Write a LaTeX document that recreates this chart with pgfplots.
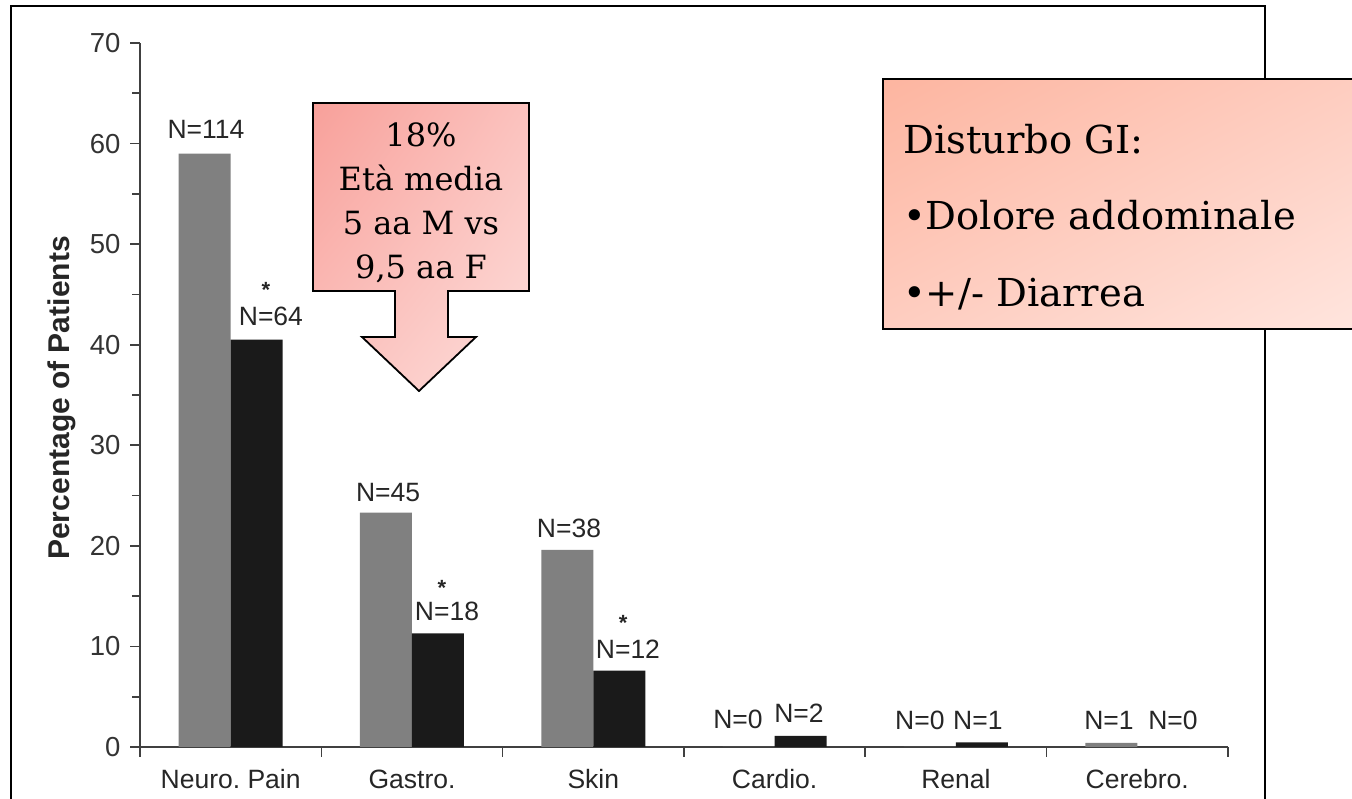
\documentclass[border=0pt]{standalone}
\usepackage{pgfplots}
\pgfplotsset{compat=1.18}
\usetikzlibrary{shadings}
\usepackage{fontspec}
\setmainfont{Liberation Sans}
\setsansfont{Liberation Sans}
\newfontfamily\boxfont{DejaVu Serif}

\definecolor{barGrey}{HTML}{808080}
\definecolor{barBlack}{HTML}{1A1A1A}
\definecolor{arrowA}{HTML}{F8A09A}
\definecolor{arrowB}{HTML}{FBC2BE}
\definecolor{arrowC}{HTML}{FDDEDB}
\definecolor{boxA}{HTML}{FDB5A0}
\definecolor{boxB}{HTML}{FECDC0}
\definecolor{boxC}{HTML}{FFE5DE}

\begin{document}
\begin{tikzpicture}[x=1pt,y=1pt]
\useasboundingbox (0,0) rectangle (1352,799);

% outer frame (bottom edge lies below the page)
\draw[line width=2pt] (11,-5) -- (11,793) -- (1265,793) -- (1265,-5);

\begin{axis}[
  at={(140pt,52pt)}, anchor=south west,
  scale only axis, width=1088pt, height=704pt,
  ymin=0, ymax=70, xmin=-0.5, xmax=5.5,
  axis x line*=bottom, axis y line*=left,
  axis line style={line width=1.6pt, color=black!75},
  ybar=0pt, bar width=52pt,
  ytick={0,10,...,70}, minor ytick={5,15,...,65},
  xtick={-0.5,0.5,...,5.5}, xticklabels={},
  extra x ticks={0,1,2,3,4,5},
  extra x tick labels={Neuro.\ Pain,Gastro.,Skin,Cardio.,Renal,Cerebro.},
  extra x tick style={major tick length=0pt,
    xticklabel style={font=\fontsize{26.5}{26.5}\selectfont, color=black!85, yshift=-19pt}},
  tick align=outside,
  major tick length=10pt, minor tick length=8pt,
  tick style={line width=1.6pt, color=black!75},
  yticklabel style={font=\fontsize{27.5}{27.5}\selectfont, color=black!80, xshift=-6pt},
  /pgf/number format/assume math mode=true,
  clip=false,
]
\addplot[fill=barGrey, draw=none] coordinates {(0,59.0) (1,23.3) (2,19.6) (3,0) (4,0) (5,0.4)};
\addplot[fill=barBlack, draw=none] coordinates {(0,40.5) (1,11.3) (2,7.6) (3,1.1) (4,0.45) (5,0)};

\begin{scope}[every node/.style={font=\fontsize{26.5}{26.5}\selectfont, color=black!85, inner sep=0pt}]
\node at (axis cs:-0.136,61.4) {N=114};
\node at (axis cs:0.222,42.8) {N=64};
\node at (axis cs:0.868,25.3) {N=45};
\node at (axis cs:1.193,13.5) {N=18};
\node at (axis cs:1.866,21.7) {N=38};
\node at (axis cs:2.191,9.7) {N=12};
\node at (axis cs:2.798,2.7) {N=0};
\node at (axis cs:3.134,3.4) {N=2};
\node at (axis cs:3.801,2.6) {N=0};
\node at (axis cs:4.121,2.6) {N=1};
\node at (axis cs:4.844,2.6) {N=1};
\node at (axis cs:5.197,2.6) {N=0};
\end{scope}
% significance stars
\begin{scope}[every node/.style={font=\bfseries\fontsize{22}{22}\selectfont, color=black!85, inner sep=0pt, yshift=-5pt}]
\node at (axis cs:0.195,45.9) {*};
\node at (axis cs:1.165,16.3) {*};
\node at (axis cs:2.164,12.8) {*};
\end{scope}
\end{axis}

% axis title
\node[rotate=90, font=\bfseries\fontsize{30}{30}\selectfont, color=black!85, inner sep=0pt]
  at (62,401) {Percentage of Patients};

% downward arrow callout
\shade[upper left=arrowA, upper right=arrowB, lower left=arrowB, lower right=arrowC]
  (313,696) -- (529,696) -- (529,508) -- (448,508) -- (448,462) -- (476,462) --
  (419,408) -- (362,462) -- (395,462) -- (395,508) -- (313,508) -- cycle;
\draw[line width=1.8pt]
  (313,696) -- (529,696) -- (529,508) -- (448,508) -- (448,462) -- (476,462) --
  (419,408) -- (362,462) -- (395,462) -- (395,508) -- (313,508) -- cycle;
\node[align=center, font=\boxfont\fontsize{32}{44}\selectfont, inner sep=0pt]
  at (421,596) {18\%\\Età media\\5 aa M vs\\9,5 aa F};

% text box on the right
\shade[upper left=boxA, upper right=boxB, lower left=boxB, lower right=boxC]
  (883,720) rectangle (1360,470);
\draw[line width=1.8pt] (1360,720) -- (883,720) -- (883,470) -- (1360,470);
\node[anchor=west, align=left, font=\boxfont\fontsize{38.5}{76.5}\selectfont, inner sep=0pt]
  at (903,582) {Disturbo GI:\\•Dolore addominale\\•+/- Diarrea};
\end{tikzpicture}
\end{document}
